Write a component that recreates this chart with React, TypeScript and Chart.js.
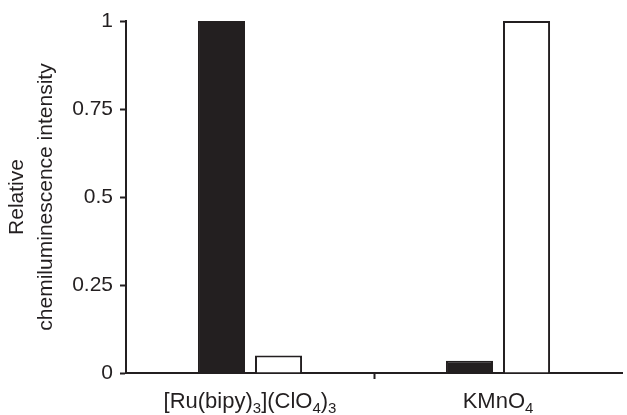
import React, { useEffect, useRef } from "react";
import { Chart, registerables } from "chart.js";

Chart.register(...registerables);

// Categories (plain text + segments with subscripts for drawing)
const categories = ["[Ru(bipy)3](ClO4)3", "KMnO4"];
const categorySegments: { t: string; sub: boolean }[][] = [
  [
    { t: "[Ru(bipy)", sub: false },
    { t: "3", sub: true },
    { t: "](ClO", sub: false },
    { t: "4", sub: true },
    { t: ")", sub: false },
    { t: "3", sub: true },
  ],
  [
    { t: "KMnO", sub: false },
    { t: "4", sub: true },
  ],
];

const blackSeries = [1, 0.035];
const whiteSeries = [0.05, 1];

const yTickLabels = ["0", "0.25", "0.5", "0.75", "1"];
const yTitle = ["Relative", "chemiluminescence intensity"];

const INK = "#231f20";
const FONT = "'Liberation Sans', Arial, Helvetica, sans-serif";

const subLabelPlugin = {
  id: "subLabels",
  afterDraw(chart: any) {
    const ctx = chart.ctx;
    const xScale = chart.scales.x;
    const baseY = chart.chartArea.bottom + 35;
    ctx.save();
    ctx.fillStyle = INK;
    ctx.textBaseline = "alphabetic";
    ctx.textAlign = "left";
    categorySegments.forEach((segs, i) => {
      let total = 0;
      const widths = segs.map((s) => {
        ctx.font = (s.sub ? "15px " : "22px ") + FONT;
        const w = ctx.measureText(s.t).width;
        total += w;
        return w;
      });
      let x = xScale.getPixelForValue(i) - total / 2;
      segs.forEach((s, j) => {
        ctx.font = (s.sub ? "15px " : "22px ") + FONT;
        ctx.fillText(s.t, x, s.sub ? baseY + 5 : baseY);
        x += widths[j];
      });
    });
    ctx.restore();
  },
};

export default function App() {
  const ref = useRef<HTMLCanvasElement | null>(null);

  useEffect(() => {
    document.body.style.margin = "0";
    if (!ref.current) return;
    const chart = new Chart(ref.current, {
      type: "bar",
      data: {
        labels: categories,
        datasets: [
          {
            data: blackSeries,
            backgroundColor: INK,
            borderColor: INK,
            borderWidth: 2,
            categoryPercentage: 0.46,
            barPercentage: 0.825,
          },
          {
            data: whiteSeries,
            backgroundColor: "#ffffff",
            borderColor: INK,
            borderWidth: 2,
            categoryPercentage: 0.46,
            barPercentage: 0.825,
          },
        ],
      },
      options: {
        responsive: false,
        animation: false,
        layout: { padding: { top: 21, right: 5, bottom: 0, left: 0 } },
        plugins: {
          legend: { display: false },
          tooltip: { enabled: false },
        },
        scales: {
          x: {
            grid: {
              drawOnChartArea: false,
              drawTicks: true,
              tickLength: 6,
              tickWidth: 2,
              tickColor: (c: any) => (c.index === 1 ? INK : "rgba(0,0,0,0)"),
            },
            border: { display: true, color: INK, width: 2 },
            ticks: { display: false },
            afterFit: (s: any) => {
              s.height = 42;
            },
          },
          y: {
            min: 0,
            max: 1,
            grid: {
              drawOnChartArea: false,
              drawTicks: true,
              tickLength: 6,
              tickWidth: 2,
              tickColor: INK,
            },
            border: { display: true, color: INK, width: 2 },
            ticks: {
              stepSize: 0.25,
              padding: 7,
              color: INK,
              font: { family: FONT, size: 21 },
              callback: (_v: any, i: number) => yTickLabels[i],
            },
            title: {
              display: true,
              text: yTitle,
              color: INK,
              font: { family: FONT, size: 21, lineHeight: 1.36 },
              padding: { top: 3, bottom: 0 },
            },
            afterFit: (s: any) => {
              s.width = 126;
            },
          },
        },
      },
      plugins: [subLabelPlugin],
    });
    return () => chart.destroy();
  }, []);

  return (
    <div style={{ width: 627, height: 415 }}>
      <canvas ref={ref} width={627} height={415} />
    </div>
  );
}
